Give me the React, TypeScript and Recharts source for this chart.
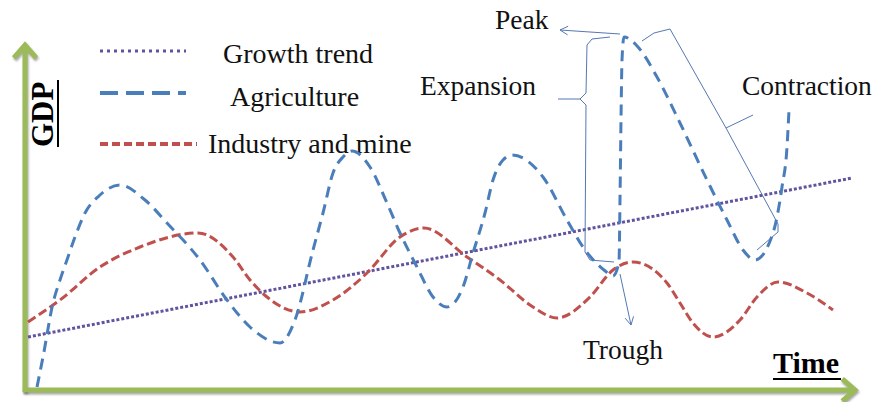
import React from 'react';
import { LineChart, Line, XAxis, YAxis, ReferenceLine } from 'recharts';

// Values. t = time, g = GDP (arbitrary units, 10 px per unit)
const growthTrend: [number, number][] = [
  [0.2, 5.1],
  [82.6, 21.0],
];

const agriculture: [number, number][] = [
  [1.1, 0.1], [1.7, 3.1], [2.7, 8.5], [3.4, 10.8], [4.2, 13.1], [4.9, 15.1], [5.9, 17.5],
  [7.4, 19.3], [9.4, 20.3],
  [11.9, 18.8], [14.1, 16.5], [17.4, 12.8], [20.1, 8.8], [22.4, 6.1], [25.4, 4.5],
  [26.9, 6.8], [28.7, 13.8], [29.7, 17.5], [30.7, 21.5], [31.7, 23.1], [32.6, 23.7],
  [34.4, 22.1], [36.1, 18.5], [37.4, 15.5], [39.1, 12.1], [40.7, 9.1], [42.1, 8.1],
  [43.7, 10.1], [44.7, 13.5], [45.9, 17.5], [46.7, 20.8], [47.7, 22.8], [48.6, 23.3],
  [51.7, 21.1], [54.1, 16.8], [55.7, 14.1], [57.8, 11.8], [58.7, 11.2],
  [59.3, 12.6], [59.4, 18.8], [59.5, 26.8], [59.6, 32.8], [59.8, 35.1],
  [61.2, 34.1], [63.1, 31.1], [65.4, 26.5], [68.1, 20.8], [70.1, 16.8], [71.7, 13.8],
  [72.9, 12.8], [74.7, 15.5], [75.6, 20.1], [76.1, 24.1], [76.3, 27.8],
];

const industry: [number, number][] = [
  [0.2, 6.6], [3.4, 8.8], [7.4, 12.1], [11.4, 14.1], [17.2, 15.5], [20.7, 13.1],
  [22.4, 10.8], [24.1, 9.1], [27.4, 7.6], [30.7, 8.8], [34.1, 11.5], [37.4, 15.1],
  [39.8, 16.0], [44.1, 13.1], [47.4, 10.8], [50.7, 8.1], [53.1, 7.0], [56.4, 9.1],
  [58.7, 11.8], [60.7, 12.6], [64.1, 10.5], [65.4, 8.5], [66.7, 6.5], [68.7, 5.1],
  [71.4, 6.8], [73.1, 9.1], [75.2, 10.6], [78.1, 9.5], [80.7, 7.8],
];

const seriesNames = ['Growth trend', 'Agriculture', 'Industry and mine'];

// annotation geometry, in the same t/g units
const axisY: [number, number][] = [[-0.1, -0.4], [-0.1, 34.3]];
const axisX: [number, number][] = [[-0.3, -0.2], [82.9, -0.2]];
const peakArrow: [number, number][] = [[59.4, 35.4], [53.4, 35.8]];
const troughArrow: [number, number][] = [[59.4, 11.4], [60.5, 6.3]];
const expansionBrace: [number, number][] = [
  [58.4, 35.1], [56.6, 34.9], [56.1, 34.3], [56.0, 29.5], [55.4, 28.9],
  [56.0, 28.3], [55.9, 13.6], [56.4, 12.8], [58.8, 12.6],
];
const expansionTip: [number, number][] = [[55.4, 28.9], [53.2, 28.9]];
const contractionBrace: [number, number][] = [
  [61.6, 34.7], [62.8, 35.5], [64.4, 35.9], [70.0, 26.0], [75.2, 16.4], [75.2, 15.6], [73.1, 13.8],
];
const contractionTip: [number, number][] = [[70.0, 26.0], [72.7, 27.3]];

const toRows = (pts: [number, number][]) => pts.map(([t, g]) => ({ t, g }));

const COLORS = {
  trend: '#62539f',
  agri: '#4a7ebb',
  industry: '#c0504d',
  axis: '#9bbb59',
  note: '#5577b3',
};

const FONT = '"Liberation Serif", "Times New Roman", serif';

function arrowShape(color: string, width: number, head: number, spread: number, shadow = false) {
  return (p: any) => {
    const { x1, y1, x2, y2 } = p;
    const a = Math.atan2(y2 - y1, x2 - x1);
    const lx = x2 - head * Math.cos(a - spread);
    const ly = y2 - head * Math.sin(a - spread);
    const rx = x2 - head * Math.cos(a + spread);
    const ry = y2 - head * Math.sin(a + spread);
    return (
      <g style={shadow ? { filter: 'drop-shadow(1px 2px 1px rgba(0,0,0,0.35))' } : undefined}>
        <line x1={x1} y1={y1} x2={x2} y2={y2} stroke={color} strokeWidth={width} />
        <polyline
          points={`${lx},${ly} ${x2},${y2} ${rx},${ry}`}
          fill="none"
          stroke={color}
          strokeWidth={width}
        />
      </g>
    );
  };
}

function seg(pts: [number, number][], color: string, prefix: string) {
  return pts.slice(1).map((p, i) => (
    <ReferenceLine
      key={`${prefix}-${i}`}
      segment={[{ x: pts[i][0], y: pts[i][1] }, { x: p[0], y: p[1] }]}
      stroke={color}
      strokeWidth={1}
      ifOverflow="visible"
    />
  ));
}

export default function App() {
  return (
    <div style={{ position: 'absolute', left: 0, top: 0, width: 876, height: 402, background: '#fff' }}>
      <LineChart width={876} height={402} margin={{ top: 0, right: 0, bottom: 0, left: 0 }}>
        <XAxis type="number" dataKey="t" domain={[-2.6, 85]} allowDataOverflow hide />
        <YAxis type="number" dataKey="g" domain={[-1.4, 38.8]} allowDataOverflow hide />

        <ReferenceLine
          segment={[{ x: axisY[0][0], y: axisY[0][1] }, { x: axisY[1][0], y: axisY[1][1] }]}
          ifOverflow="visible"
          shape={arrowShape(COLORS.axis, 5, 17, 0.72, true)}
        />
        <ReferenceLine
          segment={[{ x: axisX[0][0], y: axisX[0][1] }, { x: axisX[1][0], y: axisX[1][1] }]}
          ifOverflow="visible"
          shape={arrowShape(COLORS.axis, 5, 17, 0.72, true)}
        />

        <Line
          data={toRows(growthTrend)}
          dataKey="g"
          name={seriesNames[0]}
          type="linear"
          stroke={COLORS.trend}
          strokeWidth={3}
          strokeDasharray="3 2"
          dot={false}
          activeDot={false}
          isAnimationActive={false}
        />
        <Line
          data={toRows(industry)}
          dataKey="g"
          name={seriesNames[2]}
          type="monotone"
          stroke={COLORS.industry}
          strokeWidth={3}
          strokeDasharray="9 4"
          dot={false}
          activeDot={false}
          isAnimationActive={false}
        />
        <Line
          data={toRows(agriculture)}
          dataKey="g"
          name={seriesNames[1]}
          type="monotone"
          stroke={COLORS.agri}
          strokeWidth={3}
          strokeDasharray="11 7"
          dot={false}
          activeDot={false}
          isAnimationActive={false}
        />

        <ReferenceLine
          segment={[{ x: peakArrow[0][0], y: peakArrow[0][1] }, { x: peakArrow[1][0], y: peakArrow[1][1] }]}
          ifOverflow="visible"
          shape={arrowShape(COLORS.note, 1, 9, 0.5)}
        />
        <ReferenceLine
          segment={[{ x: troughArrow[0][0], y: troughArrow[0][1] }, { x: troughArrow[1][0], y: troughArrow[1][1] }]}
          ifOverflow="visible"
          shape={arrowShape(COLORS.note, 1, 9, 0.5)}
        />
        {seg(expansionBrace, COLORS.note, 'eb')}
        {seg(expansionTip, COLORS.note, 'et')}
        {seg(contractionBrace, COLORS.note, 'cb')}
        {seg(contractionTip, COLORS.note, 'ct')}

        {/* legend */}
        <g>
          <line x1={100} y1={51} x2={186} y2={51} stroke={COLORS.trend} strokeWidth={3} strokeDasharray="3 4" />
          <line x1={100} y1={93} x2={186} y2={93} stroke={COLORS.agri} strokeWidth={4} strokeDasharray="18 8" />
          <line x1={100} y1={144} x2={197} y2={144} stroke={COLORS.industry} strokeWidth={4} strokeDasharray="8 4" />
          <text x={223} y={63} fontFamily={FONT} fontSize={28} fill="#111">{seriesNames[0]}</text>
          <text x={230} y={106} fontFamily={FONT} fontSize={28} fill="#111">{seriesNames[1]}</text>
          <text x={208} y={153} fontFamily={FONT} fontSize={28} fill="#111">{seriesNames[2]}</text>
        </g>

        {/* annotations */}
        <g fontFamily={FONT} fontSize={27.5} fill="#111">
          <text x={495} y={29}>Peak</text>
          <text x={420} y={95}>Expansion</text>
          <text x={742} y={95}>Contraction</text>
          <text x={583} y={359}>Trough</text>
        </g>

        {/* axis titles */}
        <g fontFamily={FONT} fontWeight="bold" fill="#000">
          <text x={773} y={373} fontSize={30}>Time</text>
          <line x1={773} y1={379} x2={841} y2={379} stroke="#000" strokeWidth={2} />
          <text x={53} y={147} fontSize={31} transform="rotate(-90 53 147)">GDP</text>
          <line x1={58} y1={80} x2={58} y2={147} stroke="#000" strokeWidth={2} />
        </g>
      </LineChart>
    </div>
  );
}
